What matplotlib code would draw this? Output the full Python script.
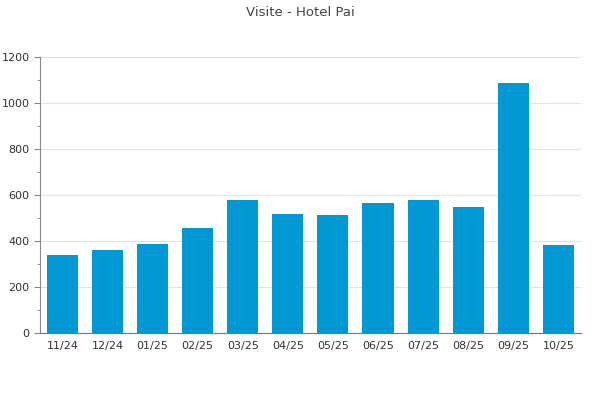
# Bar chart of monthly hotel visits

import matplotlib.pyplot as plt
from matplotlib.ticker import MultipleLocator

months = ['11/24', '12/24', '01/25', '02/25', '03/25', '04/25',
          '05/25', '06/25', '07/25', '08/25', '09/25', '10/25']
visits = [340, 362, 388, 458, 580, 519, 514, 567, 580, 549, 1088, 384]

fig = plt.figure(figsize=(6, 4), dpi=100)
ax = fig.add_axes([0.0667, 0.1675, 0.9013, 0.69])

x = range(len(months))
ax.bar(x, visits, width=0.69, color='#0099d6', zorder=3)

ax.set_xlim(-0.5, len(months) - 0.5)
ax.set_ylim(0, 1200)
ax.set_xticks(list(x))
ax.set_xticklabels(months)
ax.yaxis.set_major_locator(MultipleLocator(200))
ax.yaxis.set_minor_locator(MultipleLocator(100))
ax.grid(axis='y', color='#e3e3e3', linewidth=0.8, zorder=0)

for s in ['top', 'right']:
    ax.spines[s].set_visible(False)
ax.spines['left'].set_color('#888888')
ax.spines['bottom'].set_color('#777777')
ax.tick_params(axis='x', length=0, pad=6, labelsize=8, labelcolor='#333333')
ax.tick_params(axis='y', which='major', length=4, color='#888888',
               labelsize=8, labelcolor='#333333')
ax.tick_params(axis='y', which='minor', length=2, color='#888888')

fig.suptitle('Visite - Hotel Pai', y=0.985, fontsize=9.5, color='#444444')
fig.savefig('out.png')
